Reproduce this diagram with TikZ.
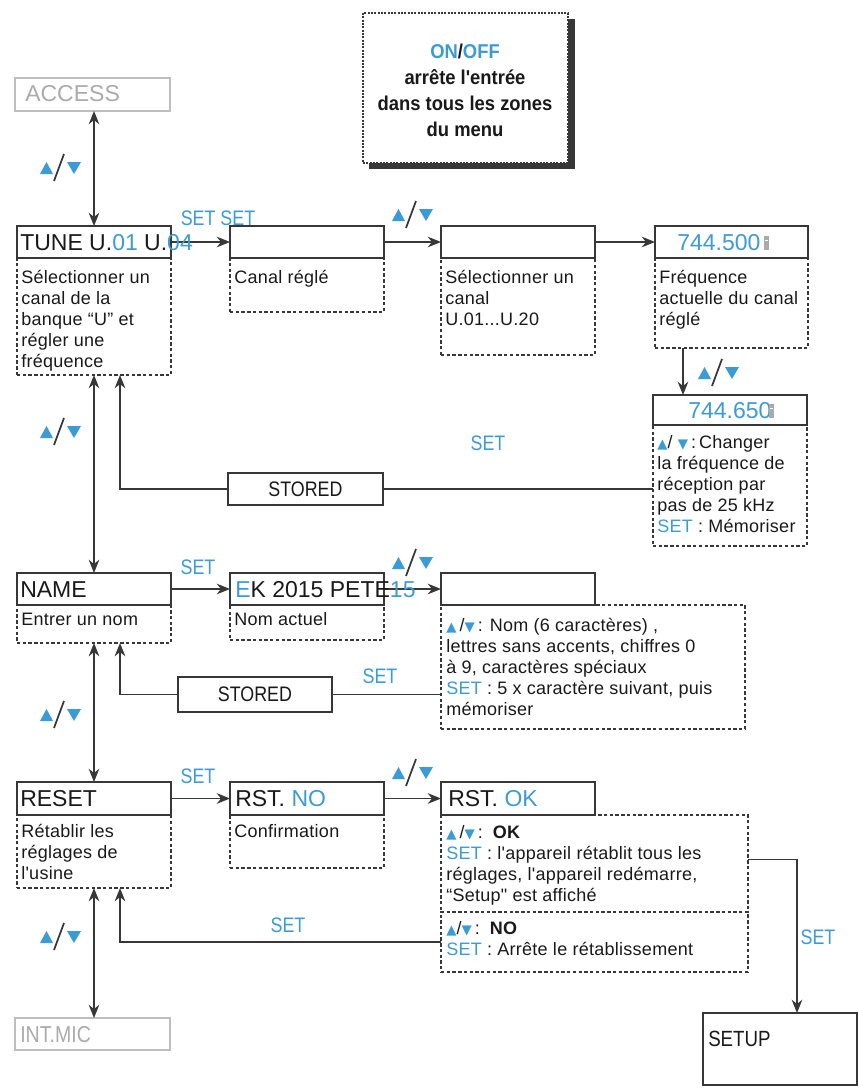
\documentclass[tikz,border=0pt]{standalone}
\usepackage{fontspec}
\setmainfont{Liberation Sans}
\newfontfamily\cnd[LetterSpace=1.5]{Liberation Sans}
\newfontfamily\lbl[FakeStretch=0.85]{Liberation Sans}
\newfontfamily\bcnd[FakeStretch=0.92]{Liberation Sans}
\newfontfamily\dv{DejaVu Sans}
\usetikzlibrary{arrows.meta}
\definecolor{blu}{RGB}{58,155,215}
\definecolor{ln}{RGB}{55,55,55}
\definecolor{gry}{RGB}{190,190,190}
\definecolor{gtx}{RGB}{170,170,170}
\definecolor{txt}{RGB}{25,25,25}
\newcommand\pxu{0.75pt}
\newcommand\ftitle{\fontsize{17.25}{20}\selectfont}
\newcommand\fdesc{\cnd\fontsize{13.5}{15.75}\selectfont}
\newcommand\flbl{\lbl\fontsize{15.75}{18}\selectfont}
\newcommand\upt{{\color{blu}\dv\fontsize{10}{10}\selectfont ▲}}
\newcommand\dnt{{\color{blu}\dv\fontsize{10}{10}\selectfont ▼}}
\newcommand\bx[6]{\node[#1,minimum width=#5*\pxu,minimum height=#6*\pxu] (#2) at (#3,#4) {};}
\tikzset{
  tb/.style={draw=ln,line width=1.3pt,inner sep=0pt,outer sep=0pt,anchor=north west},
  gb/.style={draw=gry,line width=1.2pt,inner sep=0pt,outer sep=0pt,anchor=north west},
  db/.style={draw=ln,line width=1pt,dash pattern=on 2.5pt off 1.8pt,inner sep=0pt,outer sep=0pt,anchor=north west},
  ttl/.style={anchor=base west,font=\ftitle,inner sep=0pt,text=txt},
  dsc/.style={anchor=north west,font=\fdesc,inner sep=0pt,align=left,text=txt},
  setl/.style={font=\flbl,text=blu,inner sep=0pt},
  ln1/.style={draw=ln,line width=1.1pt},
  arr/.style={draw=ln,line width=1.1pt,-{Stealth[length=10pt,width=8pt]}},
  darr/.style={draw=ln,line width=1.1pt,{Stealth[length=10pt,width=8pt]}-{Stealth[length=10pt,width=8pt]}},
  updn/.pic={
    \fill[blu] (-20,6) -- (-7,6) -- (-13.5,-6) -- cycle;
    \fill[blu] (7,-6) -- (21,-6) -- (14,6) -- cycle;
    \draw[ln,line width=1.3pt] (-6,13) -- (4,-14);
  }
}
\begin{document}
\begin{tikzpicture}[x=0.75pt,y=-0.75pt]
\path[use as bounding box] (0,0) rectangle (859,1092);
% ON/OFF box
\fill[ln] (369,19) rectangle (575,169);
\node[draw=ln,fill=white,line width=1pt,dash pattern=on 1.5pt off 1pt,anchor=north west,inner sep=0pt,outer sep=0pt,minimum width=205*\pxu,minimum height=150*\pxu] (onoff) at (363,13) {};
\node[font=\bcnd\bfseries\fontsize{15}{19.5}\selectfont,align=center,inner sep=0pt,text=txt] (onofftx) at (465,90)
  {\textcolor{blu}{ON}/\textcolor{blu}{OFF}\\arrête l'entrée\\dans tous les zones\\du menu};
% ACCESS
\bx{gb}{access}{15}{78}{155}{33}
\node[ttl,text=gtx] (accesstx) at (25,101) {ACCESS};
% TUNE row
\bx{tb}{tune}{17}{226}{154}{32}
\bx{db}{d1}{17}{258}{154}{117}
\bx{tb}{b2}{230}{226}{154}{32}
\bx{db}{d2}{230}{258}{154}{54}
\bx{tb}{b3}{441}{226}{154}{32}
\bx{db}{d3}{441}{258}{154}{97}
\bx{tb}{b4}{655}{226}{153}{32}
\bx{db}{d4}{655}{258}{153}{90}
\bx{tb}{f650}{653}{395}{154}{30}
\bx{db}{d650}{653}{425}{154}{121}
\bx{tb}{st1}{228}{473}{155}{32}
% NAME row
\bx{tb}{name}{17}{573}{154}{32}
\bx{db}{d5}{17}{605}{154}{38}
\bx{tb}{ek}{230}{573}{154}{32}
\bx{db}{d6}{230}{605}{154}{35}
\bx{tb}{b7}{441}{573}{154}{32}
\bx{db}{d7}{441}{605}{304}{124}
\bx{tb}{st2}{178}{677}{154}{35}
% RESET row
\bx{tb}{reset}{17}{782}{154}{33}
\bx{db}{d9}{17}{815}{154}{73}
\bx{tb}{rstno}{230}{782}{154}{33}
\bx{db}{d10}{230}{815}{154}{53}
\bx{tb}{rstok}{441}{782}{154}{33}
\bx{db}{okd}{441}{815}{307}{97}
\bx{db}{nod}{441}{912}{307}{60}
\bx{tb}{setup}{703}{1013}{154}{72}
\bx{gb}{intmic}{15}{1018}{155}{32}
% connectors
\draw[darr] (tune.north |- access.south) -- (tune.north);
\draw[arr] (tune.east) -- (b2.west);
\draw[arr] (b2.east) -- (b3.west);
\draw[arr] (b3.east) -- (b4.west);
\coordinate (ad) at ([xshift=28*\pxu]d4.south west);
\draw[arr] (ad) -- (ad |- f650.north);
\draw[ln1] (st1.east -| d650.west) -- (st1.east);
\coordinate (up1) at ([xshift=103*\pxu]d1.south west);
\draw[arr] (st1.west) -| (up1);
\draw[darr] (d1.south) -- (name.north);
\draw[arr] (name.east) -- (ek.west);
\draw[arr] (ek.east) -- (b7.west);
\draw[ln1] (st2.east -| d7.west) -- (st2.east);
\coordinate (up2) at ([xshift=103*\pxu]d5.south west);
\draw[arr] (st2.west) -| (up2);
\draw[darr] (d5.south) -- (reset.north);
\draw[arr] (reset.east) -- (rstno.west);
\draw[arr] (rstno.east) -- (rstok.west);
\coordinate (sx) at ([xshift=94*\pxu]setup.north west);
\draw[arr] ([yshift=4*\pxu]okd.east) -| (sx);
\coordinate (up3) at ([xshift=103*\pxu]d9.south west);
\draw[arr] (nod.west) -| (up3);
\draw[darr] (d9.south) -- (d9.south |- intmic.north);
% titles
\node[ttl] (tunetx) at (20,250) {TUNE U.\textcolor{blu}{01} U.\textcolor{blu}{04}};
\node[ttl,text=blu] (f500tx) at (677,250) {744.500};
\fill[gtx] (764,236) rectangle (769,250);
\fill[white] (765.2,240) rectangle (767.8,241);
\node[ttl,text=blu] (f650tx) at (688,418) {744.650};
\fill[gtx] (769,404) rectangle (774,418);
\fill[white] (770.2,408) rectangle (772.8,409);
\node[ttl] (nametx) at (20,597) {NAME};
\node[ttl] (ektx) at (235,597) {\textcolor{blu}{E}K 2015 PETE\textcolor{blu}{15}};
\node[ttl] (resettx) at (20,806) {RESET};
\node[ttl] (rstnotx) at (235,806) {RST. \textcolor{blu}{NO}};
\node[ttl] (rstoktx) at (448,806) {RST. \textcolor{blu}{OK}};
\node[ttl,text=gtx,font=\lbl\fontsize{17.25}{20}\selectfont] (intmictx) at (20,1042) {INT.MIC};
\node[anchor=base west,font=\lbl\fontsize{16.5}{20}\selectfont,inner sep=0pt,text=txt] (setuptx) at (708,1046) {SETUP};
\node[font=\flbl,text=txt,inner sep=0pt] (st1tx) at (st1.center) {STORED};
\node[font=\flbl,text=txt,inner sep=0pt] (st2tx) at (st2.center) {STORED};
% descriptions
\node[dsc] (t1) at (21,268.3) {\strut Sélectionner un\\canal de la\\banque “U” et\\régler une\\fréquence};
\node[dsc] (t2) at (234,268.3) {\strut Canal réglé};
\node[dsc] (t3) at (445,268.3) {\strut Sélectionner un\\canal\\U.01...U.20};
\node[dsc] (t4) at (659,268.3) {\strut Fréquence\\actuelle du canal\\réglé};
\node[dsc] (t650) at (657,433.3) {\strut \upt/ \dnt\,:\,Changer\\la fréquence de\\réception par\\pas de 25 kHz\\\textcolor{blu}{SET} : Mémoriser};
\node[dsc] (t5) at (21,610.3) {\strut Entrer un nom};
\node[dsc] (t6) at (234,610.3) {\strut Nom actuel};
\node[dsc] (t7) at (446,616.3) {\strut \upt\,/\dnt\,: Nom (6 caractères) ,\\lettres sans accents, chiffres 0\\à 9, caractères spéciaux\\\textcolor{blu}{SET} : 5 x caractère suivant, puis\\mémoriser};
\node[dsc] (t9) at (21,822.3) {\strut Rétablir les\\réglages de\\l'usine};
\node[dsc] (t10) at (234,822.3) {\strut Confirmation};
\node[dsc] (tok) at (446,823.3) {\strut \upt\,/\dnt\,:\, \textbf{OK}\\\textcolor{blu}{SET} : l'appareil rétablit tous les\\réglages, l'appareil redémarre,\\“Setup" est affiché};
\node[dsc] (tno) at (446,919.3) {\strut \upt/\dnt\,:\, \textbf{NO}\\\textcolor{blu}{SET} : Arrête le rétablissement};
% labels
\node[setl] (l1) at (218,218) {SET SET};
\node[setl] (l2) at (488,443) {SET};
\node[setl] (l3) at (198,567) {SET};
\node[setl] (l4) at (380,676) {SET};
\node[setl] (l5) at (198,776) {SET};
\node[setl] (l6) at (288,925) {SET};
\node[setl] (l7) at (818,937) {SET};
\pic at (60,168) {updn};
\pic at (60,432) {updn};
\pic at (60,715) {updn};
\pic at (60,937) {updn};
\pic at (412,215) {updn};
\pic at (412,563) {updn};
\pic at (412,773) {updn};
\pic at (718,373) {updn};
\end{tikzpicture}
\end{document}
